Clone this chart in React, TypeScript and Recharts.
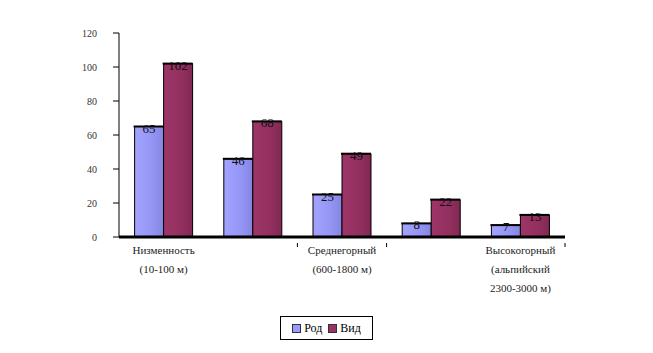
import React from "react";
import { BarChart, Bar, XAxis, YAxis, LabelList, ReferenceLine } from "recharts";

const categories = [
  "Низменность\n(10-100 м)",
  "",
  "Среднегорный\n(600-1800 м)",
  "",
  "Высокогорный\n(альпийский\n2300-3000 м)",
];
const rodValues = [65, 46, 25, 8, 7];
const vidValues = [102, 68, 49, 22, 13];
const yTicks = [0, 20, 40, 60, 80, 100, 120];
const seriesNames = ["Род", "Вид"];
const seriesColors = ["#9999FF", "#993366"];

const data = categories.map((c, i) => ({ name: c, rod: rodValues[i], vid: vidValues[i] }));

const W = 653;
const H = 353;
const M = { top: 33, right: 88, left: 0, bottom: 0 };
const YW = 119;
const XH = 116;
const FONT = "Liberation Serif, DejaVu Serif, serif";

const XTick = (props: any) => {
  const { x, y, payload } = props;
  const band = (W - M.left - M.right - YW) / categories.length;
  const catIdx = categories.indexOf(payload.value);
  const lines = String(payload.value).split("\n");
  const marks: number[] = [];
  if (catIdx === 2) { marks.push(x - band / 2, x + band / 2); }
  if (catIdx === 4) { marks.push(x + band / 2); }
  return (
    <g>
      {marks.map((mx, k) => (
        <line key={k} x1={mx} x2={mx} y1={y - 2} y2={y + 2} stroke="#000" strokeWidth={1} />
      ))}
      <text x={x} y={y + 9} textAnchor="middle" style={{ fontFamily: FONT }} fontSize={11} fill="#222">
        {lines.map((l, k) => (
          <tspan key={k} x={x} dy={k === 0 ? 0 : 19}>{l}</tspan>
        ))}
      </text>
    </g>
  );
};

const YTick = (props: any) => {
  const { x, y, payload } = props;
  return (
    <text x={x - 2} y={y + 4} textAnchor="end" style={{ fontFamily: FONT }} fontSize={10} fill="#333">
      {payload.value}
    </text>
  );
};

const ValueLabel = (props: any) => {
  const { x, y, width, value } = props;
  return (
    <g>
      <line x1={x - 1} x2={x + width} y1={y} y2={y} stroke="#000" strokeWidth={2} />
      <text x={x + width / 2} y={y + 6} textAnchor="middle" style={{ fontFamily: FONT }} fontSize={13} fill="#111">
        {value}
      </text>
    </g>
  );
};

export default function App() {
  return (
    <div style={{ position: "absolute", left: 0, top: 0, width: W, height: H, background: "#fff" }}>
      <BarChart width={W} height={H} data={data} margin={M} barCategoryGap="17.5%" barGap={0}>
        <defs>
          <linearGradient id="gRod" x1="0" y1="0" x2="1" y2="0">
            <stop offset="0%" stopColor="#A3A3FF" />
            <stop offset="60%" stopColor="#9595F5" />
            <stop offset="100%" stopColor="#8484E0" />
          </linearGradient>
          <linearGradient id="gVid" x1="0" y1="0" x2="1" y2="0">
            <stop offset="0%" stopColor="#9E3569" />
            <stop offset="60%" stopColor="#93305F" />
            <stop offset="100%" stopColor="#812852" />
          </linearGradient>
        </defs>
        <XAxis
          dataKey="name"
          interval={1}
          height={XH}
          tickLine={false}
          axisLine={{ stroke: "#000", strokeWidth: 1 }}
          tick={<XTick />}
        />
        <YAxis
          width={YW}
          domain={[0, 120]}
          ticks={yTicks}
          interval={0}
          tickSize={6}
          tickMargin={14}
          axisLine={{ stroke: "#000" }}
          tickLine={{ stroke: "#000" }}
          tick={<YTick />}
        />
        <Bar dataKey="rod" name={seriesNames[0]} fill="url(#gRod)" stroke="#000" strokeWidth={1} isAnimationActive={false}>
          <LabelList dataKey="rod" content={<ValueLabel />} />
        </Bar>
        <Bar dataKey="vid" name={seriesNames[1]} fill="url(#gVid)" stroke="#000" strokeWidth={1} isAnimationActive={false}>
          <LabelList dataKey="vid" content={<ValueLabel />} />
        </Bar>
        <ReferenceLine y={0} stroke="#000" strokeWidth={3} />
      </BarChart>
      <div
        style={{
          position: "absolute",
          left: 280,
          top: 316,
          width: 91,
          height: 22,
          border: "1px solid #000",
          display: "flex",
          alignItems: "center",
          justifyContent: "center",
          gap: 6,
          fontFamily: FONT,
          fontSize: 12,
          color: "#000",
        }}
      >
        {seriesNames.map((n, i) => (
          <div key={n} style={{ display: "flex", alignItems: "center", gap: 3 }}>
            <span style={{ display: "inline-block", width: 7, height: 7, background: seriesColors[i], border: "1px solid #333" }} />
            <span>{n}</span>
          </div>
        ))}
      </div>
    </div>
  );
}
